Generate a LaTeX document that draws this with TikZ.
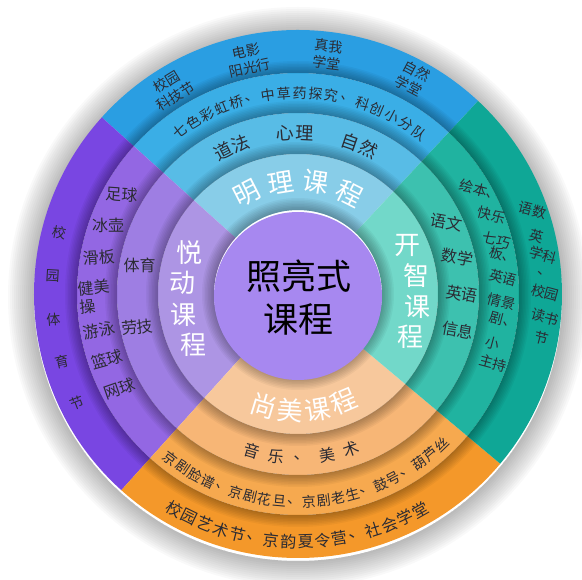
\documentclass[tikz,border=0pt]{standalone}
\usepackage{fontspec}
\setmainfont{Noto Sans CJK SC}

\definecolor{blueA}{HTML}{2A9EE2}
\definecolor{blueB}{HTML}{3AAEE6}
\definecolor{blueC}{HTML}{58BCE6}
\definecolor{blueD}{HTML}{88CDE8}
\definecolor{tealA}{HTML}{0FA796}
\definecolor{tealB}{HTML}{20B3A0}
\definecolor{tealC}{HTML}{3DC1AF}
\definecolor{tealD}{HTML}{72D8C9}
\definecolor{oranA}{HTML}{F4982A}
\definecolor{oranB}{HTML}{F6A94F}
\definecolor{oranC}{HTML}{F7B676}
\definecolor{oranD}{HTML}{F7C89C}
\definecolor{purpA}{HTML}{7946E2}
\definecolor{purpB}{HTML}{9367E3}
\definecolor{purpC}{HTML}{9E7EE3}
\definecolor{purpD}{HTML}{AD95E4}
\definecolor{coreC}{HTML}{A788F0}
\definecolor{inkC}{HTML}{2B2B33}

% one piece of a ring: start angle, end angle, inner radius, outer radius, colour
\newcommand{\ringpart}[5]{%
  \fill [#5] (#1:#3) arc [start angle=#1, end angle=#2, radius=#3pt]
    -- (#2:#4) arc [start angle=#2, end angle=#1, radius=#4pt] -- cycle;}

\tikzset{
  band text/.style={text=inkC, inner sep=0pt, font=\fontsize{16}{18}\selectfont},
  small text/.style={text=inkC, inner sep=0pt, font=\fontsize{14}{17}\selectfont},
  title text/.style={text=white, inner sep=0pt, font=\fontsize{26}{28}\selectfont},
}

\begin{document}
\begin{tikzpicture}[x=1pt, y=1pt]
  \useasboundingbox (-298,-286) rectangle (284,294);

  % shadow round the wheel
  \foreach \w in {2,4,...,26}
    \draw [black, opacity=0.022, line width=\w pt] (0,-3) circle [radius={264pt+0.5*\w pt}];

  % top: blue
  \ringpart{47}{138}{221}{264}{blueA}
  \ringpart{47}{138}{181}{221}{blueB}
  \ringpart{47}{138}{140}{181}{blueC}
  \ringpart{47}{138}{84}{140}{blueD}
  % left: purple
  \ringpart{138}{228}{221}{264}{purpA}
  \ringpart{138}{228}{181}{221}{purpB}
  \ringpart{138}{228}{140}{181}{purpC}
  \ringpart{138}{228}{84}{140}{purpD}
  % bottom: orange
  \ringpart{228}{320}{221}{264}{oranA}
  \ringpart{228}{320}{181}{221}{oranB}
  \ringpart{228}{320}{140}{181}{oranC}
  \ringpart{228}{320}{84}{140}{oranD}
  % right: teal
  \ringpart{-40}{47}{221}{264}{tealA}
  \ringpart{-40}{47}{181}{221}{tealB}
  \ringpart{-40}{47}{140}{181}{tealC}
  \ringpart{-40}{47}{84}{140}{tealD}

  % shade on the outer side of each ring edge
  \foreach \r in {84,140,181,221}
    \foreach \w in {1.5,3,...,12}
      \draw [black, opacity=0.04, line width=\w pt] (0,0) circle [radius={\r pt+0.5*\w pt}];

  \fill [coreC] (0,-2) circle [radius=84pt];
  \node [font=\fontsize{35}{43}\selectfont, align=center, text=black] (core) at (1,-4) {照亮式\\课程};

  % top
  \foreach \c [count=\i] in {明,理,课,程}
    \node [title text, rotate={27-18*(\i-1)}] (mingli\i) at ({117-18*(\i-1)}:113) {\c};
  \foreach \a/\c [count=\i] in {117.5/道,111/法,94.5/心,87.5/理,71/自,64/然}
    \node [band text, font=\fontsize{18}{20}\selectfont, rotate=\a-90] (topc\i) at (\a:161) {\c};
  \foreach \c [count=\i] in {七,色,彩,虹,桥,、,中,草,药,探,究,、,科,创,小,分,队}
    \node [small text, rotate={36-4.56*(\i-1)}] (topb\i) at ({126-4.56*(\i-1)}:201) {\c};
  \node [small text, align=center, rotate=31.7] (keji) at (121.7:241) {校园\\科技节};
  \node [small text, align=center, rotate=12] (dianying) at (102:240) {电影\\阳光行};
  \node [small text, align=center, rotate=-7] (zhenwo) at (83:241) {真我\\学堂};
  \node [small text, align=center, rotate=-28] (ziran) at (62:244) {自然\\学堂};

  % right
  \foreach \a/\c [count=\i] in {24/开,9/智,-6/课,-21/程}
    \node [title text] (kaizhi\i) at (\a:120) {\c};
  \node [band text, rotate=-10] (yuwen) at (25.8:165) {语文};
  \node [band text, rotate=-10] (shuxue) at (13:164) {数学};
  \node [band text, rotate=-10] (yingyu) at (0:164) {英语};
  \node [band text, rotate=-10] (xinxi) at (-12.7:164) {信息};
  \foreach \a/\r/\t [count=\i] in {29.7/210/绘本、,22.2/209/快乐,15.2/206/七巧,10.8/209/板、,4.5/206/英语,-2.2/204/情景,-7.2/207/剧、,-14.1/201/小,-19.5/207/主持}
    \node [small text, rotate=-15] (rightb\i) at (\a:\r) {\t};
  \foreach \a/\r/\t [count=\i] in {19.7/249/语数,13.6/246/英,9.0/248/学科,0.3/247/校园,-5.3/248/读书,-10.2/248/节}
    \node [small text, rotate=-15] (righta\i) at (\a:\r) {\t};
  \node [small text] (rightdot) at (4.7:247) {、};

  % left
  \foreach \a/\c [count=\i] in {159/悦,174.7/动,190.4/课,206.1/程}
    \node [title text] (yuedong\i) at (\a:116) {\c};
  \node [band text] (tiyu) at (169.6:161) {体育};
  \node [band text, rotate=6] (laoji) at (191.6:164) {劳技};
  \foreach \a/\t [count=\i] in {150.6/足球,160/冰壶,169.5/滑板,190.4/游泳,199/篮球,208/网球}
    \node [band text, rotate={(\a-160)*0.4}] (leftb\i) at (\a:202) {\t};
  \node [band text, align=left, rotate=6] (jianmei) at (180.8:203) {健美\\操};
  \foreach \c [count=\i] in {校,园,体,育,节}
    \node [small text, rotate={(165.5+10.2*(\i-1)-180)*0.8}] (lefta\i) at ({165.5+10.2*(\i-1)}:246) {\c};

  % bottom
  \foreach \c [count=\i] in {尚,美,课,程}
    \node [title text, rotate={253+13.3*(\i-1)-270}] (shangmei\i) at ({253+13.3*(\i-1)}:117) {\c};
  \foreach \c [count=\i] in {音,乐,、,美,术}
    \node [band text, rotate={253.6+8.85*(\i-1)-270}] (botc\i) at ({253.6+8.85*(\i-1)}:164) {\c};
  \foreach \c [count=\i] in {京,剧,脸,谱,、,京,剧,花,旦,、,京,剧,老,生,、,鼓,号,、,葫,芦,丝}
    \node [small text, rotate={232.3+4.07*(\i-1)-270}] (botb\i) at ({232.3+4.07*(\i-1)}:208) {\c};
  \foreach \c [count=\i] in {校,园,艺,术,节,、,京,韵,夏,令,营,、,社,会,学,堂}
    \node [band text, rotate={240+3.97*(\i-1)-270}] (bota\i) at ({240+3.97*(\i-1)}:248) {\c};
\end{tikzpicture}
\end{document}
